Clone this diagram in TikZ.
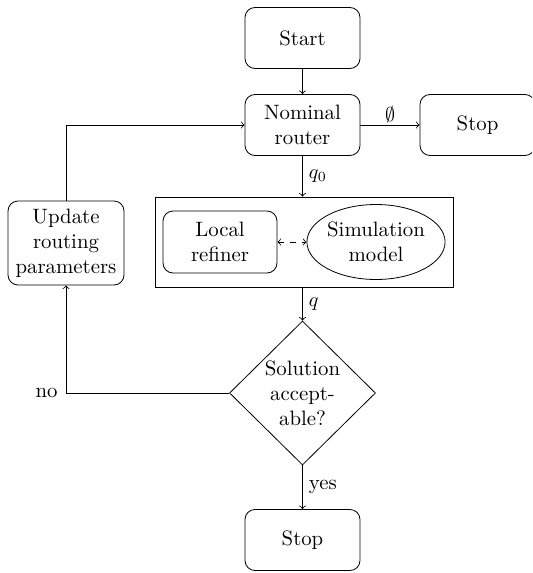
\documentclass[tikz,border=0pt]{standalone}
\usetikzlibrary{shapes.geometric}
\begin{document}
\begin{tikzpicture}[x=0.5pt,y=-0.5pt,
  every node/.style={font=\fontsize{10.4}{12.5}\selectfont},
  rbox/.style={draw,rounded corners=5pt,minimum width=57.5pt,minimum height=30.5pt,align=center,inner sep=2pt},
  ebox/.style={draw,ellipse,minimum width=69pt,minimum height=37.5pt,align=center,inner sep=0pt},
  dbox/.style={draw,diamond,minimum width=73pt,minimum height=72pt,align=center,inner sep=0pt,aspect=1},
  grp/.style={draw,minimum width=149pt,minimum height=45pt,inner sep=0pt},
  lbl/.style={inner sep=1pt},
  >=to]
\useasboundingbox (0,0) rectangle (532,573);
\clip (0,0) rectangle (532,573);
\node[rbox] (start) at (302.5,38) {Start};
\node[rbox] (nom) at (302.5,125) {Nominal\\router};
\node[rbox] (stop1) at (477.5,125) {Stop};
\node[grp] (grp) at (304,242) {};
\node[rbox,minimum width=57pt,minimum height=31pt] (loc) at (220,242) {Local\\refiner};
\node[ebox] (sim) at (376,242) {Simulation\\model};
\node[dbox] (dec) at (302.5,393) {Solution\\accept-\\able?};
\node[rbox,minimum width=58pt,minimum height=42pt,inner sep=1pt] (upd) at (66,243) {Update\\routing\\parameters};
\node[rbox] (stop2) at (302.5,540) {Stop};
\coordinate (cnr) at (66,125);
\coordinate (cno) at (66,393);

\draw[->] (start) -- (nom);
\draw[->] (nom) -- node[lbl,above] {$\emptyset$} (stop1);
\draw[->] (nom) -- node[lbl,right,xshift=2pt] {$q_0$} (nom |- grp.north);
\draw[<->,dashed] (loc) -- (sim);
\draw[->] (nom |- grp.south) -- node[lbl,right,xshift=2pt] {$q$} (dec.north);
\draw[->] (dec.west) -- (cno) node[lbl,left,xshift=-3pt] {no} -- (upd.south);
\draw[->] (upd.north) -- (cnr) -- (nom.west);
\draw[->] (dec.south) -- node[lbl,right,xshift=2pt] {yes} (stop2);
\end{tikzpicture}
\end{document}
